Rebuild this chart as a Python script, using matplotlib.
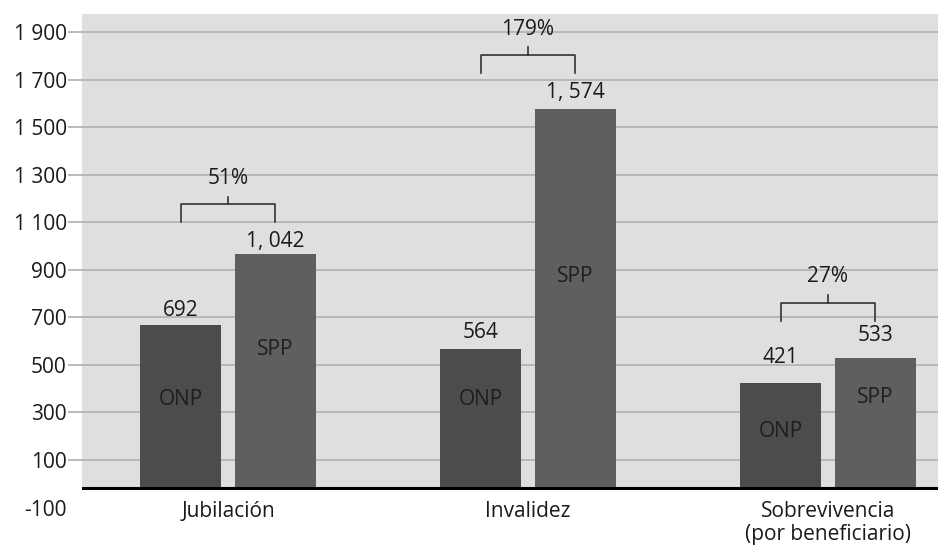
import numpy as np
import matplotlib
matplotlib.use('Agg')
from matplotlib import pyplot as plt

plt.rcParams['font.family'] = ['Open Sans', 'DejaVu Sans']

categories = ['Jubilación', 'Invalidez', 'Sobrevivencia\n(por beneficiario)']
# alturas de las barras
onp_values = [667, 568, 425]
spp_values = [965, 1577, 531]
onp_labels = ['692', '564', '421']
spp_labels = ['1, 042', '1, 574', '533']
pct_labels = ['51%', '179%', '27%']
yticks = [-100, 100, 300, 500, 700, 900, 1100, 1300, 1500, 1700, 1900]

# posiciones de los textos (layout)
base = -17.6
onp_off = [10.5, 11.5, 18]       # pt sobre la barra
spp_off = [9, 12, 16]
onp_inner = [353, 353, 221]
spp_inner = [565, 872, 361]
brk_bottom = [1099, 1727, 686]
brk_top = [1176, 1805, 760]
brk_tick = [1206, 1837, 794]
pct_y = [1282, 1910, 870]

bg = '#dfdfdf'
grid_c = '#b4b4b4'
onp_c = '#4c4c4c'
spp_c = '#5f5f5f'
txt_c = '#1a1a1a'
fs = 15

fig = plt.figure(figsize=(9.38, 5.45), dpi=100)
ax = fig.add_axes([82 / 938, 0, 1 - 82 / 938, 531 / 545])
ax.set_facecolor('white')
ax.set_xlim(-0.487, 2.367)
ax.set_ylim(-257.4, 1975.7)
for s in ax.spines.values():
    s.set_visible(False)

x = np.arange(len(categories))
w = 0.269
d = 0.158

ax.axhspan(base, 1975.7, color=bg, zorder=0)
ax.hlines(yticks[1:], -0.533, 2.367, color=grid_c, lw=1.3, zorder=1, clip_on=False)

ax.bar(x - d, np.array(onp_values) - base, w, bottom=base, color=onp_c, zorder=2)
ax.bar(x + d, np.array(spp_values) - base, w, bottom=base, color=spp_c, zorder=2)
ax.axhline(base, color='black', lw=2.2, zorder=3)

for i in range(len(categories)):
    ax.annotate(onp_labels[i], (x[i] - d, onp_values[i]), xytext=(0, onp_off[i]),
                textcoords='offset points', ha='center', va='center', fontsize=fs, color=txt_c)
    ax.annotate(spp_labels[i], (x[i] + d, spp_values[i]), xytext=(0, spp_off[i]),
                textcoords='offset points', ha='center', va='center', fontsize=fs, color=txt_c)
    ax.text(x[i] - d, onp_inner[i], 'ONP', ha='center', va='center', fontsize=fs, color='#1e1e1e', zorder=4)
    ax.text(x[i] + d, spp_inner[i], 'SPP', ha='center', va='center', fontsize=fs, color='#1e1e1e', zorder=4)
    # corchete
    ax.plot([x[i] - d, x[i] - d, x[i] + d, x[i] + d],
            [brk_bottom[i], brk_top[i], brk_top[i], brk_bottom[i]], color='#333333', lw=1.2, zorder=4)
    ax.plot([x[i], x[i]], [brk_top[i], brk_tick[i]], color='#333333', lw=1.2, zorder=4)
    ax.text(x[i], pct_y[i], pct_labels[i], ha='center', va='center', fontsize=fs, color=txt_c)
    ax.text(x[i], -72, categories[i], ha='center', va='top', fontsize=fs, color=txt_c, linespacing=1.15)

ax.set_xticks([])
ax.set_yticks(yticks)
ax.set_yticklabels(['{:,}'.format(t).replace(',', ' ') for t in yticks], fontsize=fs, color=txt_c)
ax.tick_params(axis='y', length=0, pad=11)

fig.savefig('out.png', dpi=100)
